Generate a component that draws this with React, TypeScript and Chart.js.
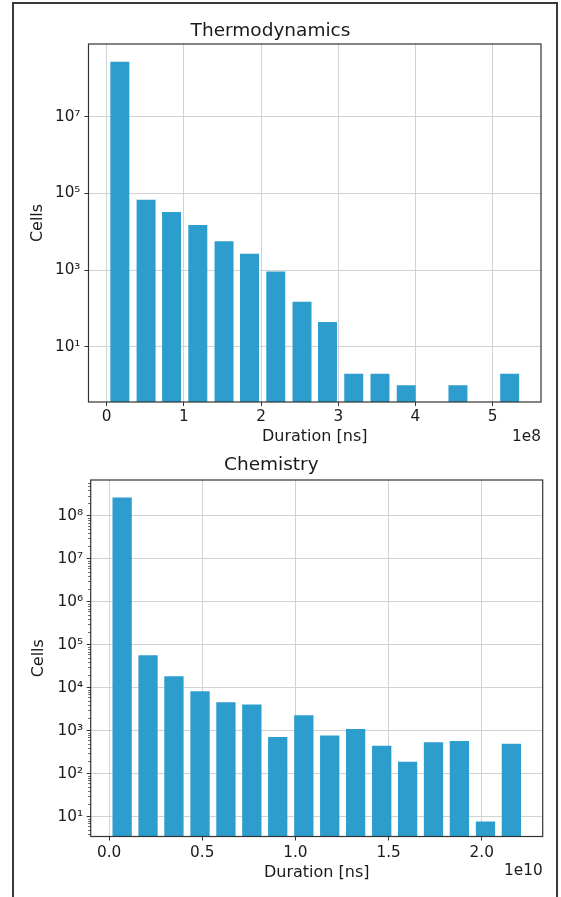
import React, { useEffect, useRef } from 'react';
import { Chart, registerables } from 'chart.js';

Chart.register(...registerables);

const FONT = "'DejaVu Sans', sans-serif";
const BAR_COLOR = '#2c9dcd';
const GRID_COLOR = '#d2d2d2';
const AXIS_COLOR = '#333333';
const TEXT_COLOR = '#1a1a1a';

// ---------- Thermodynamics (x in units of 1e8 ns) ----------
const thermoTitle = 'Thermodynamics';
const thermoBinCenters = [0.17, 0.51, 0.84, 1.18, 1.52, 1.85, 2.19, 2.53, 2.86, 3.2, 3.54, 3.88, 4.21, 4.55, 4.89, 5.22];
const thermoCells = [2.7e8, 6.9e4, 3.3e4, 1.5e4, 5.7e3, 2.7e3, 920, 150, 45, 2, 2, 1, null, 1, null, 2];
const thermoXTicks = [0, 1, 2, 3, 4, 5];
const thermoYTicks = [1e1, 1e3, 1e5, 1e7];
const thermoOffset = '1e8';

// ---------- Chemistry (x in units of 1e10 ns) ----------
const chemTitle = 'Chemistry';
const chemBinCenters = [0.07, 0.209, 0.348, 0.488, 0.627, 0.766, 0.905, 1.045, 1.184, 1.323, 1.463, 1.602, 1.741, 1.88, 2.02, 2.159];
const chemCells = [2.7e8, 5.7e4, 1.85e4, 8.3e3, 4.6e3, 4.1e3, 720, 2.3e3, 780, 1.1e3, 450, 190, 540, 580, 7.7, 500];
const chemXTicks = [0, 0.5, 1, 1.5, 2];
const chemYTicks = [1e1, 1e2, 1e3, 1e4, 1e5, 1e6, 1e7, 1e8];
const chemOffset = '1e10';

const xLabel = 'Duration [ns]';
const yLabel = 'Cells';

const SUP = '⁰¹²³⁴⁵⁶⁷⁸⁹';
const supNum = (n: number) => String(n).split('').map((d) => SUP[+d]).join('');

const framePlugin = {
  id: 'frame',
  afterDraw(chart: any, _args: any, opts: any) {
    const { ctx, chartArea: a } = chart;
    ctx.save();
    if (opts.minor) {
      const y = chart.scales.y;
      ctx.strokeStyle = AXIS_COLOR;
      ctx.lineWidth = 0.8;
      for (let e = -1; e < 10; e++) {
        for (let k = 2; k <= 9; k++) {
          const v = k * Math.pow(10, e);
          if (v < y.min || v > y.max) continue;
          const py = Math.round(y.getPixelForValue(v)) + 0.5;
          ctx.beginPath();
          ctx.moveTo(a.left - 2.5, py);
          ctx.lineTo(a.left, py);
          ctx.stroke();
        }
      }
    }
    ctx.strokeStyle = AXIS_COLOR;
    ctx.lineWidth = 1.2;
    ctx.strokeRect(a.left, a.top, a.right - a.left, a.bottom - a.top);
    ctx.fillStyle = TEXT_COLOR;
    ctx.font = `15.3px ${FONT}`;
    ctx.textAlign = 'right';
    ctx.textBaseline = 'middle';
    ctx.fillText(opts.offsetText, a.right, a.bottom + 35);
    ctx.restore();
  },
};

type Spec = {
  title: string;
  titlePad: { top: number; bottom: number };
  centers: number[];
  values: (number | null)[];
  xMin: number;
  xMax: number;
  xTicks: number[];
  xFmt: (v: number) => string;
  yMin: number;
  yMax: number;
  yTicks: number[];
  yWidth: number;
  xHeight: number;
  rightPad: number;
  xTickPad: number;
  xTitlePadBottom: number;
  yTitlePadTop: number;
  yTickPad: number;
  offsetText: string;
  minor: boolean;
};

function buildConfig(s: Spec): any {
  return {
    type: 'bar',
    data: {
      datasets: [
        {
          data: s.centers.map((x, i) => ({ x, y: s.values[i] })),
          backgroundColor: BAR_COLOR,
          borderWidth: 0,
          barPercentage: 0.745,
          categoryPercentage: 1,
        },
      ],
    },
    options: {
      responsive: false,
      maintainAspectRatio: false,
      animation: false,
      layout: { padding: { left: 0, right: s.rightPad, top: 0, bottom: 0 } },
      plugins: {
        legend: { display: false },
        tooltip: { enabled: false },
        title: {
          display: true,
          text: s.title,
          color: TEXT_COLOR,
          font: { family: FONT, size: 18.5, weight: 'normal' },
          padding: s.titlePad,
        },
        frame: { offsetText: s.offsetText, minor: s.minor },
      },
      scales: {
        x: {
          type: 'linear',
          min: s.xMin,
          max: s.xMax,
          offset: false,
          bounds: 'data',
          border: { display: false },
          grid: {
            offset: false,
            color: GRID_COLOR,
            lineWidth: 1,
            drawTicks: true,
            tickLength: 4,
            tickColor: AXIS_COLOR,
          },
          afterBuildTicks: (sc: any) => {
            sc.ticks = s.xTicks.map((v) => ({ value: v }));
          },
          afterFit: (sc: any) => {
            sc.height = s.xHeight;
          },
          ticks: {
            autoSkip: false,
            maxRotation: 0,
            padding: s.xTickPad,
            color: TEXT_COLOR,
            font: { family: FONT, size: 15.3 },
            callback: (v: any) => s.xFmt(Number(v)),
          },
          title: {
            display: true,
            text: xLabel,
            color: TEXT_COLOR,
            font: { family: FONT, size: 16 },
            padding: { top: 0, bottom: s.xTitlePadBottom },
          },
        },
        y: {
          type: 'logarithmic',
          min: s.yMin,
          max: s.yMax,
          border: { display: false },
          grid: {
            color: GRID_COLOR,
            lineWidth: 1,
            drawTicks: true,
            tickLength: 4,
            tickColor: AXIS_COLOR,
          },
          afterBuildTicks: (sc: any) => {
            sc.ticks = s.yTicks.map((v) => ({ value: v }));
          },
          afterFit: (sc: any) => {
            sc.width = s.yWidth;
          },
          ticks: {
            autoSkip: false,
            padding: s.yTickPad,
            color: TEXT_COLOR,
            font: { family: FONT, size: 15.3 },
            callback: (v: any) => '10' + supNum(Math.round(Math.log10(Number(v)))),
          },
          title: {
            display: true,
            text: yLabel,
            color: TEXT_COLOR,
            font: { family: FONT, size: 16 },
            padding: { top: s.yTitlePadTop, bottom: 0 },
          },
        },
      },
    },
    plugins: [framePlugin],
  };
}

const thermoSpec: Spec = {
  title: thermoTitle,
  titlePad: { top: 19.9, bottom: 1.9 },
  centers: thermoBinCenters,
  values: thermoCells,
  xMin: -0.236,
  xMax: 5.626,
  xTicks: thermoXTicks,
  xFmt: (v) => String(v),
  yMin: Math.pow(10, -0.434),
  yMax: Math.pow(10, 8.896),
  yTicks: thermoYTicks,
  yWidth: 88.5,
  xHeight: 48,
  rightPad: 20,
  xTickPad: 2.3,
  xTitlePadBottom: 3.4,
  yTitlePadTop: 28.4,
  yTickPad: 4,
  offsetText: thermoOffset,
  minor: false,
};

const chemSpec: Spec = {
  title: chemTitle,
  titlePad: { top: 4.4, bottom: 3.4 },
  centers: chemBinCenters,
  values: chemCells,
  xMin: -0.0987,
  xMax: 2.327,
  xTicks: chemXTicks,
  xFmt: (v) => v.toFixed(1),
  yMin: Math.pow(10, 0.539),
  yMax: Math.pow(10, 8.838),
  yTicks: chemYTicks,
  yWidth: 90.7,
  xHeight: 60.5,
  rightPad: 18.3,
  xTickPad: 3.1,
  xTitlePadBottom: 14.4,
  yTitlePadTop: 29.4,
  yTickPad: 3.5,
  offsetText: chemOffset,
  minor: true,
};

function Panel({ spec, top, height }: { spec: Spec; top: number; height: number }) {
  const ref = useRef<HTMLCanvasElement | null>(null);
  useEffect(() => {
    if (!ref.current) return;
    const chart = new Chart(ref.current, buildConfig(spec));
    return () => chart.destroy();
  }, [spec]);
  return (
    <canvas
      ref={ref}
      width={561}
      height={height}
      style={{ position: 'absolute', left: 0, top, width: 561, height, display: 'block' }}
    />
  );
}

export default function App() {
  return (
    <div
      style={{
        position: 'fixed',
        left: 0,
        top: 0,
        width: 561,
        height: 897,
        overflow: 'hidden',
        background: '#ffffff',
      }}
    >
      <div
        style={{
          position: 'absolute',
          left: 12,
          top: 2,
          width: 546,
          height: 1000,
          border: '2px solid #3a3a3a',
          boxSizing: 'border-box',
        }}
      />
      <Panel spec={thermoSpec} top={0} height={450} />
      <Panel spec={chemSpec} top={450} height={447} />
    </div>
  );
}
